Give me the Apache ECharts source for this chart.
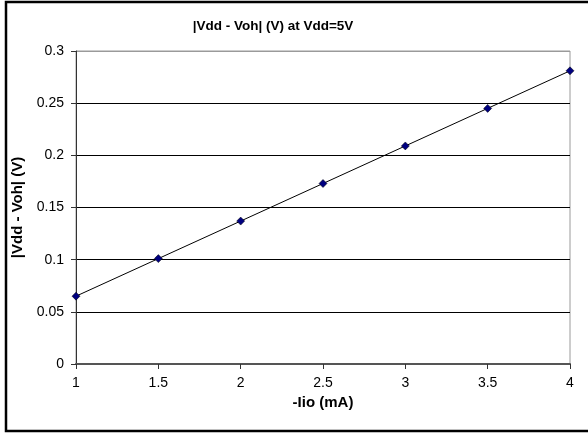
<!DOCTYPE html>
<html>
<head>
<meta charset="utf-8">
<script src="https://cdn.jsdelivr.net/npm/echarts@6/dist/echarts.min.js"></script>
<style>
  html, body { margin: 0; padding: 0; background: #fff; }
  #chart { width: 588px; height: 434px; }
</style>
</head>
<body>
<div id="chart"></div>
<script>
// Output current magnitude (mA) and measured drop |Vdd - Voh| (V)
const currents = [1, 1.5, 2, 2.5, 3, 3.5, 4];
const voltageDrop = [0.065, 0.101, 0.137, 0.173, 0.209, 0.245, 0.281];

const FONT = 'Liberation Sans, Arial, sans-serif';

const chart = echarts.init(document.getElementById('chart'), null, { renderer: 'canvas' });

chart.setOption({
  animation: false,
  backgroundColor: '#fff',
  title: {
    text: '|Vdd - Voh| (V) at Vdd=5V',
    left: 268,
    textAlign: 'center',
    top: 14,
    textStyle: { fontFamily: FONT, fontSize: 13.5, fontWeight: 'bold', color: '#000' }
  },
  graphic: [{
    type: 'rect',
    shape: { x: 6, y: 2, width: 600, height: 429 },
    style: { fill: 'none', stroke: '#000', lineWidth: 2.5 },
    silent: true
  }],
  grid: {
    left: 76, right: 18, top: 51, bottom: 70,
    show: true,
    borderColor: '#9a9a9a',
    borderWidth: 1
  },
  xAxis: {
    type: 'value',
    min: 1, max: 4, interval: 0.5,
    name: '-Iio (mA)',
    nameLocation: 'middle',
    nameGap: 28,
    nameTextStyle: { fontFamily: FONT, fontSize: 15, fontWeight: 'bold', color: '#000' },
    axisLine: { show: true, lineStyle: { color: '#555', width: 2 } },
    axisTick: { show: true, inside: false, length: 5, lineStyle: { color: '#333', width: 1 } },
    axisLabel: { fontFamily: FONT, fontSize: 14, color: '#000', margin: 12 },
    splitLine: { show: false }
  },
  yAxis: {
    type: 'value',
    min: 0, max: 0.3, interval: 0.05,
    name: '|Vdd - Voh| (V)',
    nameLocation: 'middle',
    nameGap: 44,
    nameRotate: 90,
    nameTextStyle: { fontFamily: FONT, fontSize: 15, fontWeight: 'bold', color: '#000' },
    axisLine: { show: true, lineStyle: { color: '#333', width: 1 } },
    axisTick: { show: true, inside: false, length: 5, lineStyle: { color: '#333', width: 1 } },
    axisLabel: { fontFamily: FONT, fontSize: 14, color: '#000', margin: 12 },
    splitLine: {
      show: true,
      lineStyle: {
        color: ['#000', '#000', '#000', '#000', '#000', '#000', '#9a9a9a'],
        width: 1
      }
    }
  },
  series: [{
    type: 'line',
    data: currents.map((c, i) => [c, voltageDrop[i]]),
    symbol: 'diamond',
    symbolSize: 8,
    showAllSymbol: true,
    lineStyle: { color: '#000', width: 1 },
    itemStyle: { color: '#000080', borderColor: '#000', borderWidth: 0.5 },
    z: 5
  }]
});
</script>
</body>
</html>
